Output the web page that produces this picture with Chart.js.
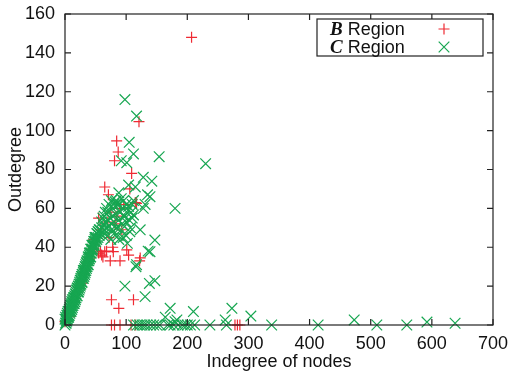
<!DOCTYPE html>
<html lang="en">
<head>
    <meta charset="UTF-8">
    <title>Indegree vs Outdegree</title>
    <script src="https://cdn.jsdelivr.net/npm/chart.js"></script>
    <style>
        html, body {
            margin: 0;
            padding: 0;
            background: #fff;
        }
        #wrap {
            width: 511px;
            height: 373px;
        }
    </style>
</head>
<body>
    <div id="wrap">
        <canvas id="degreeChart" width="511" height="373"></canvas>
    </div>

    <script>
        // values: [indegree, outdegree]
        const regionNames = ["B", "C"];
        const xTicks = [0, 100, 200, 300, 400, 500, 600, 700];
        const yTicks = [0, 20, 40, 60, 80, 100, 120, 140, 160];

        const bRegion = [
            [207, 148], [121, 104.6], [84.5, 94.7], [87, 89], [81, 84.5], [109, 78],
            [65, 71], [71, 67], [106, 70], [115, 63], [117, 62.6], [104, 36], [122, 33], [90, 33],
            [74, 33], [76, 13], [112, 13], [88, 8.6], [55, 55], [82, 52], [93, 49],
            [79, 37.7], [101, 38.6], [123, 34.5], [60, 36], [65, 37.7], [62, 35], [55, 37],
            [68, 38], [58, 38], [49, 43], [47, 44], [27, 21.5], [8, 4.3], [0, 1.7], [3, 2],
            [15, 12], [40, 34], [58, 49], [70, 53], [75, 58], [85, 56], [90, 60],
            [96, 62], [78, 40], [72, 45], [33, 29], [20, 17], [44, 39],
            [76, 0], [81, 0], [90, 0], [108, 0], [115, 0], [278, 0], [282, 0], [286, 0]
        ];

        const cRegion = [
            [0, 0], [0, 3], [1, 1], [1, 4], [2, 1], [2, 3], [3, 2], [3, 5], [4, 3], [4, 6],
            [5, 4], [5, 7], [6, 4], [6, 7], [7, 5], [7, 8], [8, 6], [8, 9], [9, 7], [9, 10],
            [10, 7], [10, 11], [11, 8], [11, 12], [12, 9], [12, 13], [13, 10], [14, 11],
            [14, 14], [15, 11], [16, 12], [16, 15], [17, 13], [18, 14], [18, 17], [19, 15],
            [20, 15], [20, 19], [21, 17], [22, 17], [22, 20], [23, 18], [24, 19], [24, 22],
            [25, 20], [26, 21], [26, 24], [27, 22], [28, 22], [28, 26], [29, 24], [30, 24],
            [30, 28], [31, 25], [32, 26], [32, 29], [33, 27], [34, 28], [34, 31], [35, 29],
            [36, 30], [36, 33], [37, 31], [38, 31], [38, 35], [39, 33], [40, 34], [40, 37],
            [41, 35], [42, 35], [42, 39], [43, 37], [44, 38], [44, 41], [45, 39], [46, 40],
            [47, 42], [48, 41], [49, 44], [50, 43], [51, 45], [52, 44], [53, 47], [54, 45],
            [55, 48], [56, 46], [57, 49], [58, 47], [60, 50], [61, 48], [63, 51], [65, 49],
            [66, 53], [68, 50], [70, 54], [72, 51], [74, 55], [76, 52], [78, 56], [80, 53],
            [83, 57], [85, 50], [88, 54], [90, 58], [93, 52], [96, 56], [100, 53], [103, 59],
            [107, 50], [110, 55],
            [2, 2], [3, 3], [4, 4], [5, 5], [6, 5], [7, 7], [8, 8], [9, 9], [10, 10], [11, 10],
            [12, 11], [13, 12], [14, 13], [15, 14], [16, 14], [17, 16], [18, 16], [19, 18],
            [20, 18], [21, 19], [22, 20], [23, 21], [24, 21], [25, 23], [26, 23], [27, 25],
            [28, 25], [29, 26], [30, 27], [31, 28], [32, 28], [33, 30], [34, 30], [35, 32],
            [36, 32], [37, 33], [38, 34], [39, 35], [40, 36], [41, 37], [42, 37], [43, 39],
            [44, 39], [45, 41], [46, 41], [47, 43], [48, 43], [49, 45], [50, 45], [52, 47],
            [54, 48], [56, 49],
            [60, 53], [64, 56], [68, 60], [72, 62], [76, 64], [80, 62], [84, 64], [88, 62],
            [96, 64], [104, 61], [110, 62],
            [62, 46], [70, 46], [80, 47], [88, 44], [100, 46], [106, 48],
            [76, 49], [84, 50], [92, 49], [98, 56], [105, 54],
            [70, 58], [78, 60], [85, 62], [95, 60], [100, 62], [108, 58], [112, 64],
            [95, 45], [102, 42], [87, 46], [75, 44], [62, 55], [66, 58], [92, 65], [88, 68],
            [123, 49], [128, 60], [112, 56.6], [147, 43.7], [139, 37.7], [117, 31],
            [98, 116], [117, 107.5], [105, 94], [112, 88], [154, 86.6], [92, 84.5],
            [101, 83.5], [128, 76], [142, 74], [104, 72], [115, 71], [135, 67], [139, 66],
            [82, 63.4], [131, 62], [180, 60], [136, 38], [116, 30], [98, 20],
            [138, 21.4], [131, 14.6], [147, 22.8], [172, 8.6], [210, 6.9], [183, 2.6],
            [164, 4], [180, 1.7], [273, 8.6], [262, 2.6], [304, 4.6], [473, 2.6],
            [592, 1.5], [638, 0.9], [230, 83],
            [112, 0], [118, 0], [122, 0], [126, 0], [130, 0], [134, 0], [140, 0], [145, 0],
            [150, 0], [155, 0], [168, 0], [172, 0], [178, 0], [185, 0], [192, 0], [196, 0],
            [200, 0], [205, 0], [212, 0], [237, 0], [264, 0], [338, 0], [414, 0], [510, 0],
            [559, 0]
        ];

        const RED = "#ef2a33";
        const GREEN = "#17a651";
        const sans = "'Liberation Sans', Arial, sans-serif";

        function toPoints(list) {
            return list.map(p => ({ x: p[0], y: p[1] }));
        }

        // gnuplot style frame: full box, inward ticks mirrored on all sides, boxed key
        const framePlugin = {
            id: "frame",
            afterDatasetsDraw(chart) {
                const ctx = chart.ctx;
                const a = chart.chartArea;
                const xs = chart.scales.x;
                const ys = chart.scales.y;
                const len = 6;
                ctx.save();
                ctx.strokeStyle = "#222";
                ctx.lineWidth = 1.2;
                ctx.beginPath();
                xTicks.forEach(v => {
                    const px = xs.getPixelForValue(v);
                    ctx.moveTo(px, a.bottom); ctx.lineTo(px, a.bottom - len);
                    ctx.moveTo(px, a.top); ctx.lineTo(px, a.top + len);
                });
                yTicks.forEach(v => {
                    const py = ys.getPixelForValue(v);
                    ctx.moveTo(a.left, py); ctx.lineTo(a.left + len, py);
                    ctx.moveTo(a.right, py); ctx.lineTo(a.right - len, py);
                });
                ctx.stroke();
                ctx.strokeRect(a.left, a.top, a.right - a.left, a.bottom - a.top);

                // key box
                const bx = a.left + 252, by = a.top + 5, bw = 166, bh = 37;
                ctx.fillStyle = "#fff";
                ctx.fillRect(bx, by, bw, bh);
                ctx.strokeRect(bx, by, bw, bh);
                ctx.textBaseline = "alphabetic";
                chart.data.datasets.forEach(ds => {
                    const base = by + 16 + ds.keyRow * 18;
                    ctx.fillStyle = "#111";
                    ctx.font = "italic bold 19px 'Liberation Serif', 'Times New Roman', serif";
                    ctx.fillText(ds.keyName, bx + 13, base);
                    const w = ctx.measureText(ds.keyName).width;
                    ctx.font = "18px " + sans;
                    ctx.fillText(" Region", bx + 13 + w, base);

                    ctx.save();
                    ctx.strokeStyle = ds.borderColor;
                    ctx.lineWidth = ds.borderWidth;
                    Chart.helpers.drawPoint(ctx, {
                        pointStyle: ds.pointStyle,
                        radius: ds.pointRadius,
                        borderWidth: ds.borderWidth
                    }, bx + 127, base - 6);
                    ctx.restore();
                });
                ctx.restore();
            }
        };

        new Chart(document.getElementById("degreeChart"), {
            type: "scatter",
            data: {
                datasets: [
                    {
                        label: regionNames[1] + " Region",
                        keyName: regionNames[1],
                        keyRow: 1,
                        data: toPoints(cRegion),
                        pointStyle: "crossRot",
                        pointRadius: 7.5,
                        borderColor: GREEN,
                        backgroundColor: GREEN,
                        borderWidth: 1.2,
                        clip: false,
                        order: 0
                    },
                    {
                        label: regionNames[0] + " Region",
                        keyName: regionNames[0],
                        keyRow: 0,
                        data: toPoints(bRegion),
                        pointStyle: "cross",
                        pointRadius: 5.5,
                        borderColor: RED,
                        backgroundColor: RED,
                        borderWidth: 1.2,
                        clip: false,
                        order: 1
                    }
                ]
            },
            options: {
                responsive: false,
                animation: false,
                layout: { padding: { top: 14, right: 18, left: 0, bottom: 0 } },
                plugins: {
                    legend: { display: false },
                    tooltip: { enabled: false }
                },
                scales: {
                    x: {
                        type: "linear",
                        min: xTicks[0],
                        max: xTicks[xTicks.length - 1],
                        afterFit(scale) {
                            scale.height = 48;
                            scale.paddingLeft = 0;
                            scale.paddingRight = 0;
                        },
                        afterBuildTicks(scale) { scale.ticks = xTicks.map(v => ({ value: v })); },
                        grid: { display: false, drawTicks: false },
                        border: { display: false },
                        ticks: {
                            color: "#111",
                            padding: 8,
                            maxRotation: 0,
                            autoSkip: false,
                            font: { family: sans, size: 18 }
                        },
                        title: {
                            display: true,
                            text: "Indegree of nodes",
                            color: "#111",
                            padding: { top: -4, bottom: 0 },
                            font: { family: sans, size: 18 }
                        }
                    },
                    y: {
                        type: "linear",
                        min: yTicks[0],
                        max: yTicks[yTicks.length - 1],
                        afterFit(scale) {
                            scale.width = 65;
                            scale.paddingTop = 0;
                            scale.paddingBottom = 0;
                        },
                        afterBuildTicks(scale) { scale.ticks = yTicks.map(v => ({ value: v })); },
                        grid: { display: false, drawTicks: false },
                        border: { display: false },
                        ticks: {
                            color: "#111",
                            padding: 10,
                            autoSkip: false,
                            font: { family: sans, size: 18 }
                        },
                        title: {
                            display: true,
                            text: "Outdegree",
                            color: "#111",
                            padding: { top: 5, bottom: 0 },
                            font: { family: sans, size: 18 }
                        }
                    }
                }
            },
            plugins: [framePlugin]
        });
    </script>
</body>
</html>
